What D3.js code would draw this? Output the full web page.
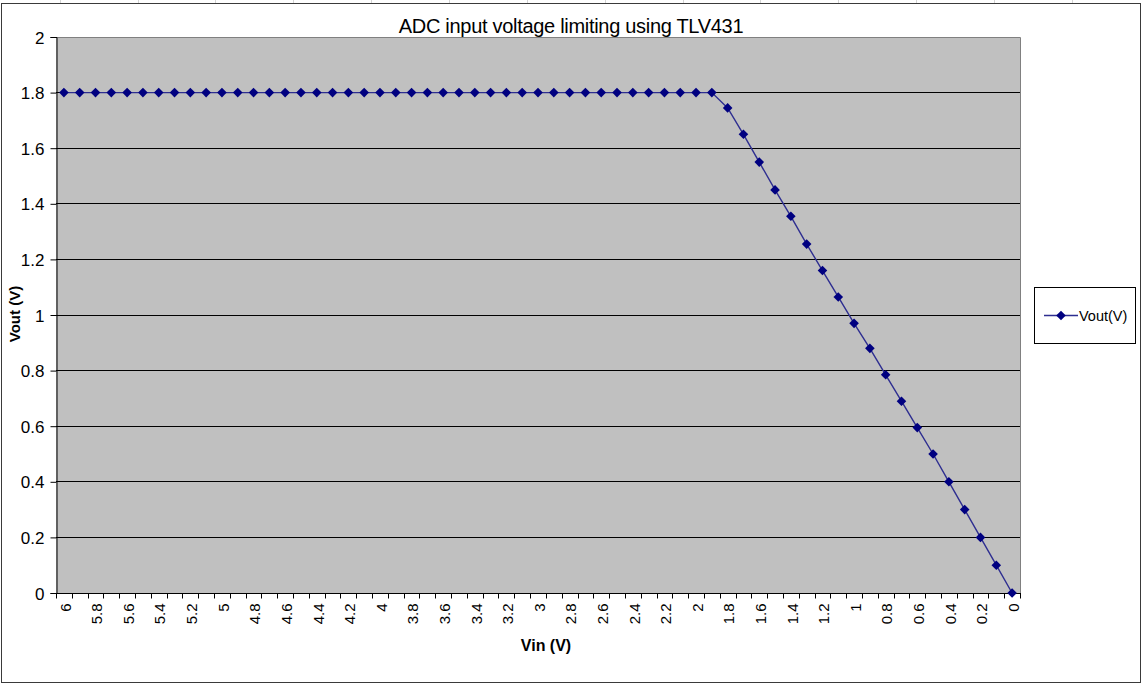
<!DOCTYPE html>
<html>
<head>
<meta charset="utf-8">
<script src="https://cdn.jsdelivr.net/npm/d3@7"></script>
<style>
  html, body { margin: 0; padding: 0; background: #ffffff; }
  svg { display: block; font-family: Arial, "Liberation Sans", sans-serif; }
</style>
</head>
<body>
<svg id="chart" width="1143" height="684"></svg>
<script>
// Input voltage sweep (categories, left to right)
const vin = ["6", "5.9", "5.8", "5.7", "5.6", "5.5", "5.4", "5.3", "5.2", "5.1",
             "5", "4.9", "4.8", "4.7", "4.6", "4.5", "4.4", "4.3", "4.2", "4.1",
             "4", "3.9", "3.8", "3.7", "3.6", "3.5", "3.4", "3.3", "3.2", "3.1",
             "3", "2.9", "2.8", "2.7", "2.6", "2.5", "2.4", "2.3", "2.2", "2.1",
             "2", "1.9", "1.8", "1.7", "1.6", "1.5", "1.4", "1.3", "1.2", "1.1",
             "1", "0.9", "0.8", "0.7", "0.6", "0.5", "0.4", "0.3", "0.2", "0.1", "0"];

// Clamped output voltage for each input
const vout = [1.8, 1.8, 1.8, 1.8, 1.8, 1.8, 1.8, 1.8, 1.8, 1.8,
              1.8, 1.8, 1.8, 1.8, 1.8, 1.8, 1.8, 1.8, 1.8, 1.8,
              1.8, 1.8, 1.8, 1.8, 1.8, 1.8, 1.8, 1.8, 1.8, 1.8,
              1.8, 1.8, 1.8, 1.8, 1.8, 1.8, 1.8, 1.8, 1.8, 1.8,
              1.8, 1.8, 1.745, 1.65, 1.55, 1.45, 1.355, 1.255, 1.16, 1.065,
              0.97, 0.88, 0.785, 0.69, 0.595, 0.5, 0.4, 0.3, 0.2, 0.1, 0];

// Category labels printed under the axis (every other input)
const xTickLabels = ["6", "5.8", "5.6", "5.4", "5.2", "5", "4.8", "4.6", "4.4", "4.2",
                     "4", "3.8", "3.6", "3.4", "3.2", "3", "2.8", "2.6", "2.4", "2.2",
                     "2", "1.8", "1.6", "1.4", "1.2", "1", "0.8", "0.6", "0.4", "0.2", "0"];

const yTicks = [0, 0.2, 0.4, 0.6, 0.8, 1, 1.2, 1.4, 1.6, 1.8, 2];

const seriesName = "Vout(V)";
const titleText = "ADC input voltage limiting using TLV431";
const xTitle = "Vin (V)";
const yTitle = "Vout (V)";

const svg = d3.select("#chart");
const plot = { left: 56, top: 37, right: 1020, bottom: 593 };

// Spreadsheet column lines peeking out around the chart frame
const colLines = [60, 138, 215, 293, 371, 449, 527, 605, 683, 760, 838, 916, 994, 1072];
svg.append("g").selectAll("line").data(colLines).join("line")
  .attr("x1", d => d + 0.5).attr("x2", d => d + 0.5)
  .attr("y1", 0).attr("y2", 3)
  .attr("stroke", "#d4d4d4");

// Chart frame
svg.append("rect")
  .attr("x", 1.5).attr("y", 3.5)
  .attr("width", 1139).attr("height", 679)
  .attr("fill", "#ffffff")
  .attr("stroke", "#3a3a3a").attr("stroke-width", 1);

const x = d3.scaleBand().domain(vin).range([plot.left, plot.right]).padding(0);
const y = d3.scaleLinear().domain([0, 2]).range([plot.bottom, plot.top]);

// Plot area
svg.append("rect")
  .attr("x", plot.left).attr("y", plot.top)
  .attr("width", plot.right - plot.left).attr("height", plot.bottom - plot.top)
  .attr("fill", "#c0c0c0");

// Horizontal gridlines
svg.append("g").selectAll("line")
  .data(yTicks.filter(v => v > 0 && v < 2)).join("line")
  .attr("x1", plot.left).attr("x2", plot.right)
  .attr("y1", d => Math.floor(y(d)) + 0.5).attr("y2", d => Math.floor(y(d)) + 0.5)
  .attr("stroke", "#000000").attr("stroke-width", 1);

// Plot area border (top & right)
svg.append("path")
  .attr("d", `M${plot.left},${plot.top + 0.5}H${plot.right + 0.5}V${plot.bottom}`)
  .attr("fill", "none").attr("stroke", "#808080").attr("stroke-width", 1);

// Y axis
const yAxis = d3.axisLeft(y).tickValues(yTicks).tickSize(6).tickPadding(6)
  .tickFormat(d3.format("~g"));
const gy = svg.append("g").attr("transform", `translate(${plot.left + 0.5},0)`).call(yAxis);
gy.select(".domain").attr("stroke", "#000000");
gy.selectAll(".tick line").attr("stroke", "#000000");
gy.selectAll(".tick text")
  .attr("font-size", "17px").attr("fill", "#000000")
  .attr("font-family", "Arial, 'Liberation Sans', sans-serif")
  .attr("dy", "0.36em");

// X axis: ticks between categories, labels every other category
const gx = svg.append("g").attr("transform", `translate(0,${plot.bottom + 0.5})`);
gx.append("line")
  .attr("x1", plot.left).attr("x2", plot.right + 1)
  .attr("stroke", "#000000");
const boundaries = vin.map(c => x(c)).concat([plot.right]);
gx.selectAll("line.tk").data(boundaries).join("line").attr("class", "tk")
  .attr("x1", d => Math.round(d) + 0.5).attr("x2", d => Math.round(d) + 0.5)
  .attr("y1", 0).attr("y2", 5)
  .attr("stroke", "#000000");
gx.selectAll("text").data(vin.filter(c => xTickLabels.includes(c))).join("text")
  .attr("transform", d => `translate(${x(d) + x.bandwidth() / 2},10) rotate(-90)`)
  .attr("text-anchor", "end")
  .attr("dy", "0.45em")
  .attr("font-size", "15px")
  .attr("fill", "#000000")
  .text(d => d);

// Series line
const pts = vin.map((c, i) => [x(c) + x.bandwidth() / 2, y(vout[i])]);
svg.append("path")
  .attr("d", d3.line()(pts))
  .attr("fill", "none")
  .attr("stroke", "#2e2e90")
  .attr("stroke-width", 1.4);

// Diamond markers
const diamond = d3.symbol(d3.symbolSquare, 46);
svg.append("g").selectAll("path").data(pts).join("path")
  .attr("d", diamond)
  .attr("transform", d => `translate(${d[0]},${d[1]}) rotate(45)`)
  .attr("fill", "#000080");

// Title
svg.append("text")
  .attr("x", 571).attr("y", 33)
  .attr("text-anchor", "middle")
  .attr("font-size", "20px")
  .attr("letter-spacing", "-0.3px")
  .attr("fill", "#000000")
  .text(titleText);

// Axis titles
svg.append("text")
  .attr("x", 546).attr("y", 651)
  .attr("text-anchor", "middle")
  .attr("font-size", "16px").attr("font-weight", "bold")
  .attr("fill", "#000000")
  .text(xTitle);

svg.append("text")
  .attr("transform", "translate(20,314) rotate(-90)")
  .attr("text-anchor", "middle")
  .attr("font-size", "15px").attr("font-weight", "bold")
  .attr("fill", "#000000")
  .text(yTitle);

// Legend
const lg = svg.append("g");
lg.append("rect")
  .attr("x", 1034.5).attr("y", 287.5)
  .attr("width", 101).attr("height", 56)
  .attr("fill", "#ffffff").attr("stroke", "#000000");
lg.append("line")
  .attr("x1", 1044).attr("x2", 1078).attr("y1", 315.5).attr("y2", 315.5)
  .attr("stroke", "#2e2e90").attr("stroke-width", 1.4);
lg.append("path")
  .attr("d", diamond)
  .attr("transform", "translate(1061,315.5) rotate(45)")
  .attr("fill", "#000080");
lg.append("text")
  .attr("x", 1079).attr("y", 320.5)
  .attr("font-size", "14.5px")
  .attr("fill", "#000000")
  .text(seriesName);
</script>
</body>
</html>
